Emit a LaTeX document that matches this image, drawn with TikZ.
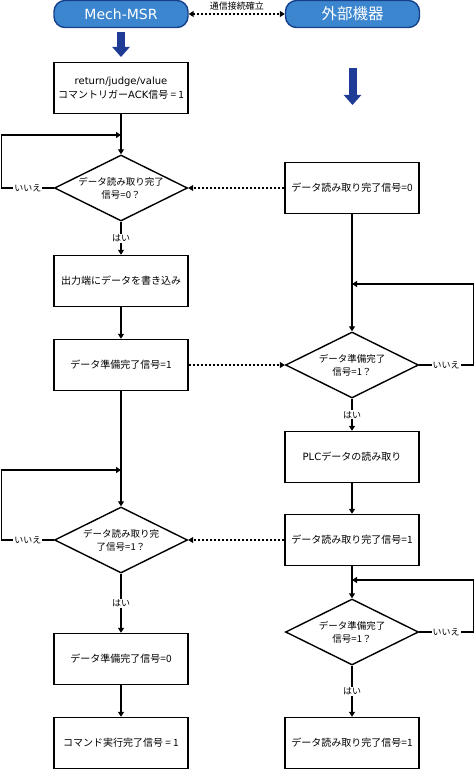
\documentclass[tikz,border=0pt]{standalone}
\usepackage{fontspec}
\setmainfont{Noto Sans CJK JP}
\newfontfamily\latfont{DejaVu Sans}
\usetikzlibrary{arrows.meta,shapes.geometric}
\definecolor{pillfill}{RGB}{59,134,207}
\definecolor{pilledge}{RGB}{22,64,140}
\definecolor{navyarrow}{RGB}{30,60,150}
\newcommand{\boxfont}{\fontsize{10}{13.5}\selectfont}
\newcommand{\askfont}{\fontsize{9.5}{13}\selectfont}
\newcommand{\ansfont}{\fontsize{9}{10}\selectfont}
\newcommand{\lat}[1]{{\latfont #1}}
\tikzset{
	procbox/.style={draw, line width=1.4pt, minimum width=134pt, minimum height=51pt, align=center, font=\boxfont},
	decision/.style={draw, diamond, aspect=2, line width=1.4pt, minimum width=133pt, minimum height=66pt, inner sep=0pt, align=center, font=\askfont},
	pill/.style={draw=pilledge, fill=pillfill, line width=1.4pt, rounded corners=11pt, minimum width=134pt, minimum height=27pt, text=white, font=\fontsize{14}{16}\selectfont},
	flow/.style={line width=1.2pt, -{Triangle[width=6pt,length=5pt]}},
	sig/.style={line width=1.4pt, dash pattern=on 2pt off 2pt, -{Triangle[width=6pt,length=5pt]}},
	answer/.style={fill=white, inner sep=1pt, font=\ansfont},
	bigarrow/.style={draw=navyarrow, line width=8pt, -{Triangle[width=17pt,length=10pt]}}
}
\begin{document}
\begin{tikzpicture}[x=1pt,y=-1pt]
		%\draw[help lines] (0,0) grid[step=50] (474,770);
		\useasboundingbox (0,0) rectangle (474,770);
		
		\node[pill] (msr) at (121,14) {\lat{Mech-MSR}};
		\node[pill, font=\fontsize{15.5}{17}\selectfont] (ext) at (352.5,14) {外部機器};
		\draw[sig, {Triangle[width=6pt,length=5pt]}-{Triangle[width=6pt,length=5pt]}] (msr.east) -- node[yshift=8pt, font=\fontsize{9}{10}\selectfont] {通信接続確立} (ext.west);
		\draw[bigarrow] (121,32) -- (121,57);
		\draw[bigarrow] (352.5,68) -- (352.5,105);
		
		\node[procbox] (b1) at (121,88) {\lat{return/judge/value}\\コマントリガー\lat{ACK}信号 = 1};
		\node[decision] (dq1) at (121,188) {データ読み取り完了\\信号=0？};
		\node[procbox] (b2) at (121,281) {出力端にデータを書き込み};
		\node[procbox] (b3) at (121,365) {データ準備完了信号=1};
		\node[decision] (dq3) at (121,540) {データ読み取り完\\了信号=1？};
		\node[procbox] (b4) at (121,659) {データ準備完了信号=0};
		\node[procbox] (b5) at (121,743) {コマンド実行完了信号 = 1};
		
		\node[procbox] (r1) at (352,188) {データ読み取り完了信号=0};
		\node[decision] (dq2) at (352,365) {データ準備完了\\信号=1？};
		\node[procbox] (r2) at (352,457) {\lat{PLC}データの読み取り};
		\node[procbox] (r3) at (352,540) {データ読み取り完了信号=1};
		\node[decision] (dq4) at (352,632) {データ準備完了\\信号=1？};
		\node[procbox] (r4) at (352,743) {データ読み取り完了信号=1};
		
		\coordinate (j1) at (121,135);
		\coordinate (j2) at (352,284);
		\coordinate (j3) at (121,470);
		\coordinate (j4) at (352,580);
		
		\draw[flow] (b1) -- (dq1);
		\draw[flow] (dq1.west) -- node[answer] {いいえ} ++(-52,0) |- (j1);
		\draw[flow] (dq1) -- node[answer] {はい} (b2);
		\draw[flow] (b2) -- (b3);
		\draw[flow] (b3) -- (dq3);
		\draw[flow] (dq3.west) -- node[answer] {いいえ} ++(-52,0) |- (j3);
		\draw[flow] (dq3) -- node[answer] {はい} (b4);
		\draw[flow] (b4) -- (b5);
		
		\draw[flow] (r1) -- (dq2);
		\draw[flow] (dq2.east) -- node[answer] {いいえ} ++(54,0) |- (j2);
		\draw[flow] (dq2) -- node[answer] {はい} (r2);
		\draw[flow] (r2) -- (r3);
		\draw[flow] (r3) -- (dq4);
		\draw[flow] (dq4.east) -- node[answer] {いいえ} ++(54,0) |- (j4);
		\draw[flow] (dq4) -- node[answer] {はい} (r4);
		
		\draw[sig] (r1.west) -- (dq1.east);
		\draw[sig] (b3.east) -- (dq2.west);
		\draw[sig] (r3.west) -- (dq3.east);
		\end{tikzpicture}
\end{document}
